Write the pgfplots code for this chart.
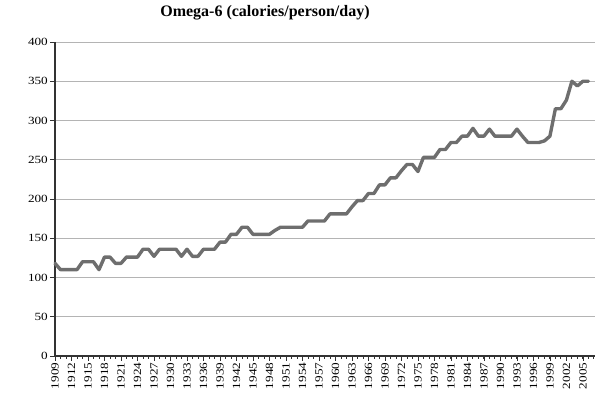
\documentclass[border=0pt]{standalone}
\usepackage{pgfplots}
\pgfplotsset{compat=1.18}
\usepackage{fontspec}
\setmainfont{Liberation Serif}
\newfontfamily\tickfont{Liberation Serif}[FakeStretch=1.2]
\definecolor{linegray}{HTML}{6E6E6E}
\definecolor{gridgray}{HTML}{B4B4B4}
\definecolor{axisdark}{HTML}{333333}
\begin{document}
\begin{tikzpicture}[x=1pt,y=1pt]
\useasboundingbox (0,0) rectangle (615,398);
\node[font=\bfseries\fontsize{16}{18}\selectfont, anchor=base] at (265,381) {Omega-6 (calories/person/day)};
\begin{axis}[
  at={(55pt,42pt)}, anchor=south west,
  scale only axis, width=540pt, height=314pt,
  xmin=1909, xmax=2007.2, ymin=0, ymax=400,
  axis x line=bottom, axis y line=left,
  axis line style={-, axisdark, line width=1.8pt},
  xtick={1909,1912,1915,1918,1921,1924,1927,1930,1933,1936,1939,1942,1945,1948,1951,1954,1957,1960,1963,1966,1969,1972,1975,1978,1981,1984,1987,1990,1993,1996,1999,2002,2005},
  xticklabels={1909,1912,1915,1918,1921,1924,1927,1930,1933,1936,1939,1942,1945,1948,1951,1954,1957,1960,1963,1966,1969,1972,1975,1978,1981,1984,1987,1990,1993,1996,1999,2002,2005},
  minor xtick={1909,...,2007},
  ytick={0,50,100,150,200,250,300,350,400},
  yticklabels={0,50,100,150,200,250,300,350,400},
  ymajorgrids, major grid style={gridgray, line width=0.9pt},
  tick align=outside,
  major tick length=5pt, minor tick length=3pt,
  every tick/.style={axisdark, line width=0.8pt},
  xticklabel style={rotate=90, anchor=east, font=\tickfont\fontsize{11}{11}\selectfont, inner sep=1.5pt},
  yticklabel style={font=\tickfont\fontsize{11}{11}\selectfont, inner sep=2pt},
  clip=false,
]
\addplot[linegray, line width=3.4pt, line join=round, line cap=round] coordinates {
(1909,118) (1910,110) (1911,110) (1912,110) (1913,110)
(1914,120) (1915,120) (1916,120) (1917,110) (1918,126)
(1919,126) (1920,118) (1921,118) (1922,126) (1923,126)
(1924,126) (1925,136) (1926,136) (1927,127) (1928,136)
(1929,136) (1930,136) (1931,136) (1932,127) (1933,136)
(1934,127) (1935,127) (1936,136) (1937,136) (1938,136)
(1939,145) (1940,145) (1941,155) (1942,155) (1943,164)
(1944,164) (1945,155) (1946,155) (1947,155) (1948,155)
(1949,160) (1950,164) (1951,164) (1952,164) (1953,164)
(1954,164) (1955,172) (1956,172) (1957,172) (1958,172)
(1959,181) (1960,181) (1961,181) (1962,181) (1963,190)
(1964,198) (1965,198) (1966,207) (1967,207) (1968,218)
(1969,218) (1970,227) (1971,227) (1972,236) (1973,244)
(1974,244) (1975,235) (1976,253) (1977,253) (1978,253)
(1979,263) (1980,263) (1981,272) (1982,272) (1983,280)
(1984,280) (1985,290) (1986,280) (1987,280) (1988,289)
(1989,280) (1990,280) (1991,280) (1992,280) (1993,289)
(1994,280) (1995,272) (1996,272) (1997,272) (1998,274)
(1999,280) (2000,315) (2001,315) (2002,326) (2003,350)
(2004,344) (2005,350) (2006,350)
};
\end{axis}
\end{tikzpicture}
\end{document}
